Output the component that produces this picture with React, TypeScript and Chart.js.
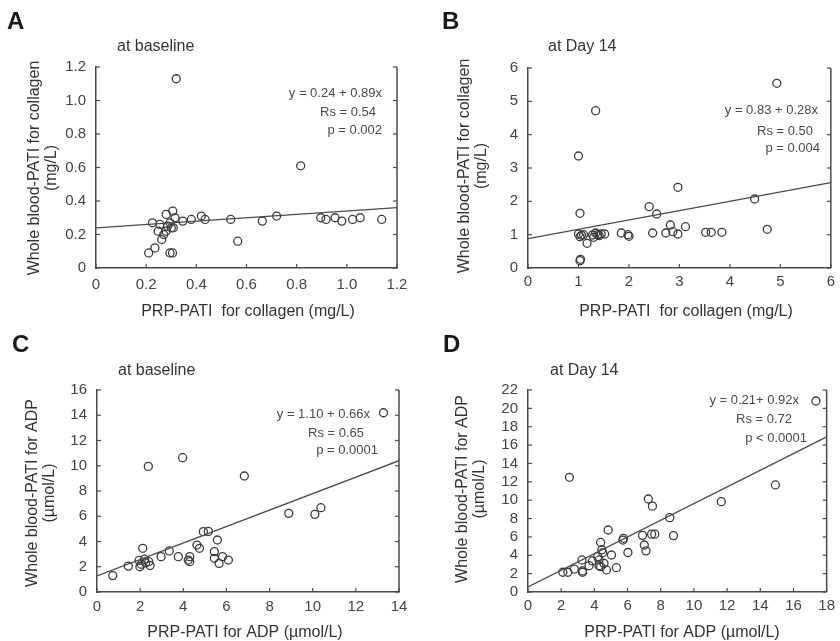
import React, { useEffect, useRef } from "react";
import { Chart, registerables } from "chart.js";

Chart.register(...registerables);

// ---------- Panel A: collagen, at baseline ----------
const aPoints: number[][] = [
  [0.21, 0.09], [0.235, 0.12], [0.225, 0.27], [0.248, 0.22], [0.255, 0.26], [0.262, 0.17],
  [0.27, 0.2], [0.279, 0.22], [0.28, 0.32], [0.285, 0.25], [0.295, 0.27], [0.3, 0.24],
  [0.306, 0.34], [0.308, 0.24], [0.315, 0.3], [0.295, 0.09], [0.305, 0.09], [0.32, 1.13],
  [0.346, 0.28], [0.38, 0.29], [0.42, 0.31], [0.435, 0.29], [0.537, 0.29], [0.565, 0.16],
  [0.663, 0.28], [0.72, 0.31], [0.816, 0.61], [0.896, 0.3], [0.917, 0.29], [0.953, 0.3],
  [0.98, 0.28], [1.023, 0.29], [1.053, 0.3], [1.139, 0.29],
];
const aFit: number[][] = [[0, 0.24], [1.2, 0.36]];
const aXTicks = ["0", "0.2", "0.4", "0.6", "0.8", "1.0", "1.2"];
const aYTicks = ["0", "0.2", "0.4", "0.6", "0.8", "1.0", "1.2"];
const aStats = ["y = 0.24 + 0.89x", "Rs = 0.54", "p = 0.002"];

// ---------- Panel B: collagen, at Day 14 ----------
const bPoints: number[][] = [
  [1.0, 3.36], [1.03, 1.64], [1.04, 0.26], [1.03, 0.22], [1.0, 1.02], [1.03, 0.94],
  [1.06, 0.98], [1.1, 1.0], [1.17, 0.74], [1.28, 0.99], [1.3, 0.92], [1.34, 1.05],
  [1.34, 4.72], [1.38, 1.0], [1.41, 0.97], [1.45, 1.02], [1.52, 1.02], [1.85, 1.05],
  [1.98, 1.0], [2.0, 0.95], [2.4, 1.84], [2.47, 1.05], [2.55, 1.62], [2.73, 1.05],
  [2.82, 1.29], [2.87, 1.09], [2.97, 2.42], [2.97, 1.02], [3.12, 1.24], [3.52, 1.07],
  [3.63, 1.07], [3.84, 1.07], [4.49, 2.07], [4.74, 1.16], [4.93, 5.54],
];
const bFit: number[][] = [[0, 0.88], [6, 2.56]];
const bXTicks = ["0", "1", "2", "3", "4", "5", "6"];
const bYTicks = ["0", "1", "2", "3", "4", "5", "6"];
const bStats = ["y = 0.83 + 0.28x", "Rs = 0.50", "p = 0.004"];

// ---------- Panel C: ADP, at baseline ----------
const cPoints: number[][] = [
  [0.73, 1.3], [1.45, 2.05], [1.95, 2.5], [1.99, 2.0], [2.05, 2.2], [2.12, 3.46],
  [2.2, 2.6], [2.25, 2.3], [2.38, 9.95], [2.4, 2.4], [2.46, 2.1], [2.97, 2.8],
  [3.35, 3.25], [3.77, 2.8], [3.97, 10.64], [4.23, 2.53], [4.3, 2.4], [4.3, 2.8],
  [4.63, 3.72], [4.75, 3.46], [4.93, 4.78], [5.16, 4.8], [5.44, 3.2], [5.44, 2.67],
  [5.58, 4.12], [5.66, 2.27], [5.82, 2.8], [6.09, 2.53], [6.83, 9.19], [8.89, 6.23],
  [10.1, 6.15], [10.38, 6.68], [13.28, 14.2],
];
const cFit: number[][] = [[0, 1.27], [14, 10.4]];
const cXTicks = ["0", "2", "4", "6", "8", "10", "12", "14"];
const cYTicks = ["0", "2", "4", "6", "8", "10", "12", "14", "16"];
const cStats = ["y = 1.10 + 0.66x", "Rs = 0.65", "p = 0.0001"];

// ---------- Panel D: ADP, at Day 14 ----------
const dPoints: number[][] = [
  [2.1, 2.15], [2.4, 2.15], [2.5, 12.49], [2.79, 2.5], [3.25, 3.49], [3.29, 2.15],
  [3.29, 2.3], [3.68, 2.87], [3.88, 3.38], [4.2, 3.85], [4.28, 3.49], [4.28, 2.87],
  [4.38, 5.4], [4.38, 2.76], [4.45, 4.6], [4.5, 4.28], [4.58, 3.12], [4.73, 2.4],
  [4.83, 6.75], [5.03, 4.03], [5.33, 2.65], [5.72, 5.66], [5.76, 5.85], [6.02, 4.3],
  [6.9, 6.17], [7.01, 5.12], [7.11, 4.48], [7.25, 10.13], [7.45, 6.3], [7.5, 9.35],
  [7.64, 6.3], [8.54, 8.1], [8.77, 6.14], [11.65, 9.84], [14.91, 11.66], [17.35, 20.8],
];
const dFit: number[][] = [[0, 0.55], [18, 16.9]];
const dXTicks = ["0", "2", "4", "6", "8", "10", "12", "14", "16", "18"];
const dYTicks = ["0", "2", "4", "6", "8", "10", "12", "14", "16", "18", "20", "22"];
const dStats = ["y = 0.21+ 0.92x", "Rs = 0.72", "p < 0.0001"];

// ---------- Texts ----------
const letters = ["A", "B", "C", "D"];
const subtitles = ["at baseline", "at Day 14", "at baseline", "at Day 14"];
const xTitles = [
  "PRP-PATI  for collagen (mg/L)",
  "PRP-PATI  for collagen (mg/L)",
  "PRP-PATI for ADP (\u00b5mol/L)",
  "PRP-PATI for ADP (\u00b5mol/L)",
];
const yTitles = [
  ["Whole blood-PATI for collagen", "(mg/L)"],
  ["Whole blood-PATI for collagen", "(mg/L)"],
  ["Whole blood-PATI for ADP", "(\u00b5mol/L)"],
  ["Whole blood-PATI for ADP", "(\u00b5mol/L)"],
];

// ---------- Layout (positions / sizes only) ----------
const CW = 420;
const CH = 320;
const WY = 40;
const HX = 30;
const FONT = "'Liberation Sans', Arial, Helvetica, sans-serif";
const AXIS = "#4a4a4a";
const MARK = "#3c3c3c";

type Lay = {
  left: number; top: number;
  area: { l: number; r: number; t: number; b: number };
  xPad: number;
  letter: [number, number];
  sub: [number, number];
  yTitle: [number, number, number];
  xTitle: [number, number];
  stats: [number, number][];
};

const layouts: Lay[] = [
  {
    left: 0, top: 0, area: { l: 96, r: 397, t: 67, b: 268 }, xPad: 8,
    letter: [7, 22], sub: [117, 47], yTitle: [35, 52, 168], xTitle: [248, 312],
    stats: [[382, 93], [376, 112], [382, 130]],
  },
  {
    left: 420, top: 0, area: { l: 108, r: 411, t: 68, b: 268 }, xPad: 5,
    letter: [22, 22], sub: [128, 47], yTitle: [45, 62, 166], xTitle: [266, 312],
    stats: [[398, 110], [393, 131], [400, 148]],
  },
  {
    left: 0, top: 320, area: { l: 97, r: 399, t: 70, b: 272 }, xPad: 6,
    letter: [12, 25], sub: [118, 51], yTitle: [33, 50, 173], xTitle: [245, 313],
    stats: [[370, 94], [364, 113], [378, 130]],
  },
  {
    left: 420, top: 320, area: { l: 108, r: 411, t: 70, b: 272 }, xPad: 5,
    letter: [23, 25], sub: [130, 51], yTitle: [43, 60, 169], xTitle: [262, 313],
    stats: [[379, 80], [372, 99], [387, 118]],
  },
];

type PanelData = {
  points: number[][]; fit: number[][];
  xTicks: string[]; yTicks: string[]; stats: string[];
};

const panels: PanelData[] = [
  { points: aPoints, fit: aFit, xTicks: aXTicks, yTicks: aYTicks, stats: aStats },
  { points: bPoints, fit: bFit, xTicks: bXTicks, yTicks: bYTicks, stats: bStats },
  { points: cPoints, fit: cFit, xTicks: cXTicks, yTicks: cYTicks, stats: cStats },
  { points: dPoints, fit: dFit, xTicks: dXTicks, yTicks: dYTicks, stats: dStats },
];

const decoPlugin = {
  id: "deco",
  afterDraw(chart: any, _args: any, opts: any) {
    const idx: number = opts.index;
    const lay = layouts[idx];
    const pd = panels[idx];
    const { ctx, chartArea: ca, scales } = chart;
    ctx.save();
    // right frame line
    ctx.strokeStyle = AXIS;
    ctx.lineWidth = 1.5;
    ctx.beginPath();
    ctx.moveTo(ca.right, ca.top);
    ctx.lineTo(ca.right, ca.bottom);
    ctx.stroke();
    // inward ticks
    ctx.lineWidth = 1.2;
    const seg = (x1: number, y1: number, x2: number, y2: number) => {
      ctx.beginPath();
      ctx.moveTo(x1, y1);
      ctx.lineTo(x2, y2);
      ctx.stroke();
    };
    scales.x.ticks.forEach((t: any) => {
      const px = scales.x.getPixelForValue(t.value);
      seg(px, ca.bottom, px, ca.bottom - 4);
    });
    scales.y.ticks.forEach((t: any) => {
      const py = scales.y.getPixelForValue(t.value);
      seg(ca.left, py, ca.left + 4, py);
      seg(ca.right, py, ca.right - 4, py);
    });

    // panel letter
    ctx.fillStyle = "#1a1a1a";
    ctx.textBaseline = "middle";
    ctx.textAlign = "left";
    ctx.font = `bold 24px ${FONT}`;
    ctx.fillText(letters[idx], lay.letter[0], lay.letter[1]);
    // subtitle
    ctx.fillStyle = "#333";
    ctx.font = `16px ${FONT}`;
    ctx.fillText(subtitles[idx], lay.sub[0], lay.sub[1]);
    // x title
    ctx.textAlign = "center";
    ctx.fillText(xTitles[idx], lay.xTitle[0], lay.xTitle[1]);
    // y title (rotated)
    const yt = yTitles[idx];
    [lay.yTitle[0], lay.yTitle[1]].forEach((x, i) => {
      ctx.save();
      ctx.translate(x, lay.yTitle[2]);
      ctx.rotate(-Math.PI / 2);
      ctx.fillText(yt[i], 0, 0);
      ctx.restore();
    });
    // stats
    ctx.textAlign = "right";
    ctx.fillStyle = "#4a4a4a";
    ctx.font = `13px ${FONT}`;
    pd.stats.forEach((s, i) => {
      ctx.fillText(s, lay.stats[i][0], lay.stats[i][1]);
    });
    ctx.restore();
  },
};

function makeConfig(idx: number): any {
  const pd = panels[idx];
  const lay = layouts[idx];
  const xVals = pd.xTicks.map((s) => parseFloat(s));
  const yVals = pd.yTicks.map((s) => parseFloat(s));
  const tickFont = { family: FONT, size: 15 };
  return {
    type: "scatter",
    data: {
      datasets: [
        {
          label: "fit",
          data: pd.fit.map(([x, y]) => ({ x, y })),
          showLine: true,
          borderColor: "#4a4a4a",
          borderWidth: 1.3,
          pointRadius: 0,
          fill: false,
        },
        {
          label: "subjects",
          data: pd.points.map(([x, y]) => ({ x, y })),
          showLine: false,
          pointStyle: "circle",
          pointRadius: 4,
          pointBorderWidth: 1.3,
          pointBorderColor: MARK,
          pointBackgroundColor: "rgba(0,0,0,0)",
          clip: false,
        },
      ],
    },
    options: {
      animation: false,
      responsive: false,
      devicePixelRatio: 1,
      events: [],
      layout: {
        padding: {
          left: lay.area.l - WY,
          right: CW - lay.area.r,
          top: lay.area.t,
          bottom: CH - lay.area.b - HX,
        },
      },
      plugins: {
        legend: { display: false },
        tooltip: { enabled: false },
        deco: { index: idx },
      },
      scales: {
        x: {
          type: "linear",
          min: xVals[0],
          max: xVals[xVals.length - 1],
          grid: { display: false, drawTicks: false },
          border: { display: true, color: AXIS, width: 1.5 },
          afterBuildTicks: (s: any) => {
            s.ticks = xVals.map((v) => ({ value: v }));
          },
          afterFit: (s: any) => {
            s.height = HX;
          },
          ticks: {
            font: tickFont,
            color: "#444",
            padding: lay.xPad,
            maxRotation: 0,
            autoSkip: false,
            callback: (_v: any, i: number) => pd.xTicks[i],
          },
        },
        y: {
          type: "linear",
          min: yVals[0],
          max: yVals[yVals.length - 1],
          grid: { display: false, drawTicks: false },
          border: { display: true, color: AXIS, width: 1.5 },
          afterBuildTicks: (s: any) => {
            s.ticks = yVals.map((v) => ({ value: v }));
          },
          afterFit: (s: any) => {
            s.width = WY;
          },
          ticks: {
            font: tickFont,
            color: "#444",
            padding: 10,
            autoSkip: false,
            callback: (_v: any, i: number) => pd.yTicks[i],
          },
        },
      },
    },
    plugins: [decoPlugin],
  };
}

function Panel({ idx }: { idx: number }) {
  const ref = useRef<HTMLCanvasElement | null>(null);
  useEffect(() => {
    if (!ref.current) return;
    const chart = new Chart(ref.current, makeConfig(idx));
    return () => chart.destroy();
  }, [idx]);
  const lay = layouts[idx];
  return (
    <canvas
      ref={ref}
      width={CW}
      height={CH}
      style={{ position: "absolute", left: lay.left, top: lay.top, width: CW, height: CH }}
    />
  );
}

export default function App() {
  return (
    <div
      style={{
        position: "fixed",
        left: 0,
        top: 0,
        width: 840,
        height: 641,
        background: "#ffffff",
        overflow: "hidden",
      }}
    >
      {[0, 1, 2, 3].map((i) => (
        <Panel key={i} idx={i} />
      ))}
    </div>
  );
}
